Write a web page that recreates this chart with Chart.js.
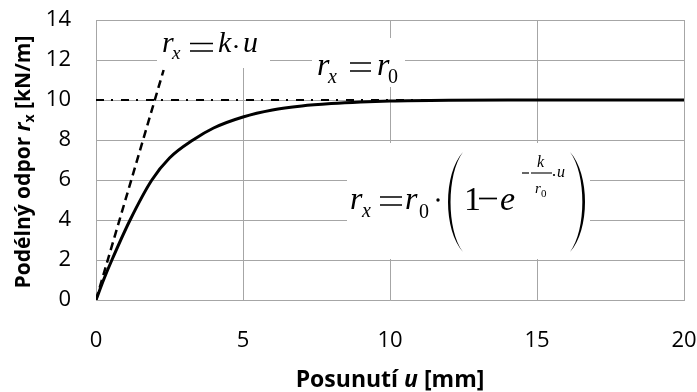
<!DOCTYPE html>
<html><head><meta charset="utf-8">
<script src="https://cdn.jsdelivr.net/npm/chart.js@4"></script>
<style>html,body{margin:0;padding:0;background:#fff}</style>
</head><body>
<canvas id="c" width="697" height="392"></canvas>
<script>
// ---- data ----
const xTicks = [0, 5, 10, 15, 20];
const yTicks = [0, 2, 4, 6, 8, 10, 12, 14];
const curveU = [0, 0.27, 0.54, 1.16, 1.9, 2.5, 3.3, 4, 5, 6, 7, 8, 9, 10, 12, 14, 20];
const curveR = [0, 1.05, 2, 4, 6, 7.1, 8, 8.6, 9.15, 9.5, 9.7, 9.82, 9.9, 9.95, 9.99, 10, 10];
const linearU = [0, 2.3];
const linearR = [0, 11.5];
const limitU = [0, 20];
const limitR = [10, 10];

const pts = (xs, ys) => xs.map((x, i) => ({x: x, y: ys[i]}));
const SERIF = '"Liberation Serif","DejaVu Serif",serif';
const SANS = '"Open Sans","Noto Sans",sans-serif';

function t(ctx, s, x, y, font) { ctx.font = font; ctx.fillText(s, x, y); }
function eq(ctx, x1, x2, y1, y2, w) {
  ctx.lineWidth = w; ctx.beginPath();
  ctx.moveTo(x1, y1); ctx.lineTo(x2, y1); ctx.moveTo(x1, y2); ctx.lineTo(x2, y2); ctx.stroke();
}
function hl(ctx, x1, x2, y, w) { ctx.lineWidth = w; ctx.beginPath(); ctx.moveTo(x1, y); ctx.lineTo(x2, y); ctx.stroke(); }
function dot(ctx, x, y, r) { ctx.beginPath(); ctx.arc(x, y, r, 0, Math.PI * 2); ctx.fill(); }
function paren(ctx, xEnd, xMid, yt, yb, thick) {
  const k = 1 / 0.75;
  const dir = Math.sign(xMid - xEnd);
  const outer = xEnd + (xMid - xEnd) * k;
  const inner = xEnd + (xMid - xEnd - dir * thick) * k;
  const h = yb - yt;
  ctx.beginPath();
  ctx.moveTo(xEnd, yt);
  ctx.bezierCurveTo(outer, yt + h * 0.22, outer, yb - h * 0.22, xEnd, yb);
  ctx.bezierCurveTo(inner, yb - h * 0.22, inner, yt + h * 0.22, xEnd, yt);
  ctx.fill();
}

const annot = {
  id: 'annot',
  beforeDatasetsDraw(chart) {
    const ctx = chart.ctx;
    ctx.save();
    ctx.fillStyle = '#fff';
    ctx.fillRect(157, 21, 113, 47);
    ctx.fillRect(312, 38, 93, 49);
    ctx.fillRect(347, 143, 243, 116);
    ctx.fillStyle = '#000'; ctx.strokeStyle = '#000';
    ctx.textAlign = 'left'; ctx.textBaseline = 'alphabetic';
    // r_x = k · u
    t(ctx, 'r', 162, 52, 'italic 30px ' + SERIF);
    t(ctx, 'x', 172, 59, 'italic 19px ' + SERIF);
    eq(ctx, 190, 213, 43.5, 51, 1.6);
    t(ctx, 'k', 218, 52, 'italic 30px ' + SERIF);
    dot(ctx, 236, 46.5, 1.6);
    t(ctx, 'u', 243, 52, 'italic 30px ' + SERIF);
    // r_x = r_0
    t(ctx, 'r', 317, 75, 'italic 32px ' + SERIF);
    t(ctx, 'x', 328, 83, 'italic 20px ' + SERIF);
    eq(ctx, 350, 371, 63, 71, 1.7);
    t(ctx, 'r', 377, 75, 'italic 32px ' + SERIF);
    t(ctx, '0', 388, 83, '20px ' + SERIF);
    // r_x = r_0 · (1 - e^(-k/r0 · u))
    t(ctx, 'r', 350, 209, 'italic 32px ' + SERIF);
    t(ctx, 'x', 362, 217, 'italic 20px ' + SERIF);
    eq(ctx, 380, 402, 197, 205, 1.7);
    t(ctx, 'r', 405, 209, 'italic 32px ' + SERIF);
    t(ctx, '0', 419, 218, '20px ' + SERIF);
    dot(ctx, 438, 200, 1.7);
    paren(ctx, 463, 448, 152, 252, 2.6);
    paren(ctx, 570, 585, 152, 252, 2.6);
    t(ctx, '1', 464, 210, '34px ' + SERIF);
    hl(ctx, 479, 497, 198.5, 1.7);
    t(ctx, 'e', 500, 210, 'italic 34px ' + SERIF);
    hl(ctx, 522, 529, 173, 1.2);
    t(ctx, 'k', 537, 167, 'italic 16px ' + SERIF);
    hl(ctx, 531, 552, 173, 1.1);
    t(ctx, 'r', 535, 193, 'italic 15px ' + SERIF);
    t(ctx, '0', 541, 197, '11px ' + SERIF);
    dot(ctx, 554, 175, 1.1);
    t(ctx, 'u', 557, 177, 'italic 16px ' + SERIF);
    ctx.restore();
  },
  afterDraw(chart) {
    const ctx = chart.ctx;
    ctx.save();
    ctx.fillStyle = '#000';
    ctx.textBaseline = 'alphabetic'; ctx.textAlign = 'left';
    // x title
    const xParts = [['Posunutí ', 'bold 23px ' + SANS, 0], ['u', 'italic bold 23px ' + SANS, 0], [' [mm]', 'bold 23px ' + SANS, 0]];
    drawParts(ctx, xParts, 390, 387);
    // y title
    ctx.translate(30, 162);
    ctx.rotate(-Math.PI / 2);
    const yParts = [['Podélný odpor ', 'bold 21px ' + SANS, 0], ['r', 'italic bold 21px ' + SANS, 0], ['x', 'bold 14px ' + SANS, 4], [' [kN/m]', 'bold 21px ' + SANS, 0]];
    drawParts(ctx, yParts, 0, 0);
    ctx.restore();
  }
};
function drawParts(ctx, parts, cx, y) {
  let w = 0;
  parts.forEach(p => { ctx.font = p[1]; w += ctx.measureText(p[0]).width; });
  let x = cx - w / 2;
  parts.forEach(p => { ctx.font = p[1]; ctx.fillText(p[0], x, y + p[2]); x += ctx.measureText(p[0]).width; });
}

new Chart(document.getElementById('c'), {
  type: 'scatter',
  data: {
    datasets: [
      { label: 'curve', data: pts(curveU, curveR), showLine: true, borderColor: '#000', borderWidth: 3,
        pointRadius: 0, cubicInterpolationMode: 'monotone', fill: false },
      { label: 'limit', data: pts(limitU, limitR), showLine: true, borderColor: '#000', borderWidth: 2,
        borderDash: [8, 7, 2, 8], pointRadius: 0, fill: false },
      { label: 'linear', data: pts(linearU, linearR), showLine: true, borderColor: '#000', borderWidth: 2.5,
        borderDash: [8, 5], pointRadius: 0, fill: false }
    ]
  },
  options: {
    responsive: false, animation: false,
    layout: { padding: { top: 20, right: 13, left: 0, bottom: 0 } },
    plugins: { legend: { display: false }, tooltip: { enabled: false } },
    scales: {
      x: {
        type: 'linear', min: 0, max: 20,
        afterBuildTicks: s => { s.ticks = xTicks.map(v => ({value: v})); },
        afterFit: s => { s.height = 92; s.paddingLeft = 0; s.paddingRight = 0; },
        grid: { color: '#a6a6a6', lineWidth: 1, drawTicks: false },
        border: { color: '#a6a6a6', width: 1 },
        ticks: { color: '#000', padding: 28, font: { family: 'Open Sans', size: 22 }, maxRotation: 0 }
      },
      y: {
        type: 'linear', min: 0, max: 14,
        afterBuildTicks: s => { s.ticks = yTicks.map(v => ({value: v})); },
        afterFit: s => { s.width = 96; s.paddingTop = 0; s.paddingBottom = 0; },
        grid: { color: '#a6a6a6', lineWidth: 1, drawTicks: false },
        border: { color: '#a6a6a6', width: 1 },
        ticks: { color: '#000', padding: 25, font: { family: 'Open Sans', size: 22 } }
      }
    }
  },
  plugins: [annot]
});
</script>
</body></html>
